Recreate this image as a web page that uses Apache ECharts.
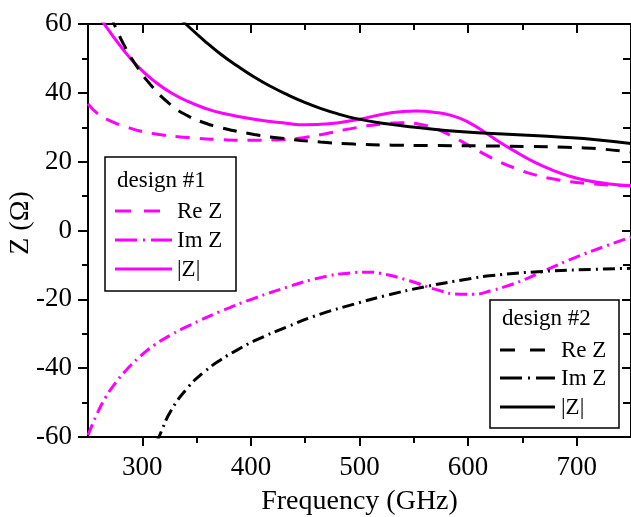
<!DOCTYPE html>
<html>
<head>
<meta charset="utf-8">
<script src="https://cdn.jsdelivr.net/npm/echarts@6/dist/echarts.min.js"></script>
<style>
html, body { margin: 0; padding: 0; background: #fff; }
#chart { width: 631px; height: 517px; }
</style>
</head>
<body>
<div id="chart"></div>
<script>
// tick labels
var xMajor = [300, 400, 500, 600, 700];
var xMinor = [350, 450, 550, 650];

// design #1 (magenta)
var d1Re = [[250,36.8],[259,33.9],[268,32.2],[286,30],[311,28.1],[342,27],[372,26.4],[403,26.2],[428,26.4],[449,27],[470,28.2],[492,29.6],[520,30.9],[540,31.3],[555,30.9],[570,29.6],[585,27.4],[600,24.8],[615,22.2],[630,19.8],[645,17.9],[660,16.3],[680,14.9],[708,13.7],[750,13]];
var d1Im = [[250,-59.5],[258,-53.5],[266,-48.6],[276,-44],[286,-40.3],[298,-36.6],[311,-33.3],[326,-30.4],[342,-27.8],[372,-23.5],[403,-19.7],[434,-16.4],[464,-13.7],[492,-12.3],[506,-12.1],[520,-12.5],[546,-14.6],[570,-17.1],[592,-18.5],[605,-18.5],[622,-17.4],[638,-15.9],[653,-14.1],[668,-12],[699,-7.8],[725,-4.7],[750,-1.9]];
var d1Abs = [[262,61.3],[283,52.3],[296,47.6],[311,43.4],[326,40.1],[342,37.5],[357,35.6],[372,34.2],[403,32.3],[434,31.1],[449,30.7],[472,31],[497,32.2],[525,34],[538,34.5],[552,34.7],[570,34.3],[586,33.3],[600,31.5],[616,28.4],[631,25.3],[647,22.3],[662,19.7],[678,17.5],[693,15.8],[708,14.6],[728,13.6],[750,13]];

// design #2 (black)
var d2Re = [[270,62.8],[274,60],[283,54],[293,48.6],[308,42.2],[326,36.6],[342,33.3],[357,31.3],[372,29.9],[403,27.9],[428,26.8],[464,25.7],[495,25.1],[530,24.8],[564,24.7],[610,24.6],[656,24.4],[690,24.2],[718,23.8],[750,22.8]];
var d2Im = [[313,-61.6],[316,-59.5],[326,-52.6],[342,-45.6],[357,-41.1],[372,-37.6],[388,-34.6],[403,-32.1],[434,-27.9],[464,-24.3],[495,-21.4],[523,-19],[561,-16.3],[600,-14.1],[622,-13.1],[668,-11.9],[714,-11.3],[750,-11]];
var d2Abs = [[332,62.4],[340,60],[357,55.2],[372,51.3],[388,47.7],[403,44.6],[418,41.9],[434,39.4],[449,37.3],[464,35.5],[480,33.9],[497,32.5],[525,31],[549,30.1],[595,28.7],[641,27.9],[687,27.1],[718,26.4],[750,25.3]];

var serif = 'Liberation Serif';
var magenta = '#ff00ff';
var dash = [14, 10];
var dashDot = [12, 5, 2, 5];

var chart = echarts.init(document.getElementById('chart'));

function xAx(pos, ticks, len, inside, labels) {
	return {
		type: 'value', position: pos, min: 250, max: 750,
		axisLine: { show: true, onZero: false, lineStyle: { color: '#000', width: 2 } },
		axisTick: { show: true, inside: inside, length: len, customValues: ticks, lineStyle: { color: '#000', width: 2 } },
		axisLabel: labels ? { show: true, customValues: ticks, margin: 17, color: '#000', fontFamily: serif, fontSize: 27 } : { show: false },
		splitLine: { show: false },
		name: labels ? 'Frequency (GHz)' : '',
		nameLocation: 'middle',
		nameGap: 51,
		nameTextStyle: { color: '#000', fontFamily: serif, fontSize: 28 }
	};
}

function yAx(pos, inside, labels) {
	return {
		type: 'value', position: pos, min: -60, max: 60, interval: 20,
		axisLine: { show: true, onZero: false, lineStyle: { color: '#000', width: 2 } },
		axisTick: { show: true, inside: inside, length: inside ? 9 : 10, lineStyle: { color: '#000', width: 2 } },
		minorTick: { show: true, splitNumber: 2, length: inside ? 8 : 6, lineStyle: { color: '#000', width: 2 } },
		axisLabel: labels ? { show: true, margin: 16, color: '#000', fontFamily: serif, fontSize: 27 } : { show: false },
		splitLine: { show: false },
		minorSplitLine: { show: false }
	};
}

function line(name, data, color, type) {
	return {
		name: name, type: 'line', data: data, smooth: 0.5, symbol: 'none',
		xAxisIndex: 0, yAxisIndex: 0, clip: true,
		lineStyle: { color: color, width: 3, type: type, cap: 'butt' }
	};
}

// legend boxes
function legendBox(x, y, w, h, title, color, rows) {
	var els = [
		{ type: 'rect', shape: { x: x, y: y, width: w, height: h }, style: { fill: '#fff', stroke: '#000', lineWidth: 1.5 } },
		{ type: 'text', style: { text: title, x: x + rows.tx0, y: rows.ty0, font: '23px "Liberation Serif"', fill: '#000', verticalAlign: 'middle' } }
	];
	rows.items.forEach(function (r) {
		els.push({ type: 'line', shape: { x1: rows.lx1, y1: r.y, x2: rows.lx2, y2: r.y }, style: { stroke: color, lineWidth: 3, lineDash: r.dash, lineCap: 'butt' } });
		els.push({ type: 'text', style: { text: r.label, x: rows.tx, y: r.y + 1, font: '23px "Liberation Serif"', fill: '#000', verticalAlign: 'middle' } });
	});
	return { type: 'group', z: 100, children: els };
}

var option = {
	animation: false,
	backgroundColor: '#fff',
	textStyle: { fontFamily: serif },
	grid: { left: 88, right: 0, top: 24, bottom: 80, containLabel: false, outerBoundsMode: 'none' },
	xAxis: [
		xAx('bottom', xMajor, 9, false, true),
		xAx('bottom', xMinor, 6, false, false),
		xAx('top', xMajor, 9, true, false),
		xAx('top', xMinor, 6, true, false)
	],
	yAxis: [
		yAx('left', false, true),
		yAx('right', true, false)
	],
	series: [
		line('d1 Re Z', d1Re, magenta, dash),
		line('d1 Im Z', d1Im, magenta, dashDot),
		line('d1 |Z|', d1Abs, magenta, 'solid'),
		line('d2 Re Z', d2Re, '#000', dash),
		line('d2 Im Z', d2Im, '#000', dashDot),
		line('d2 |Z|', d2Abs, '#000', 'solid')
	],
	graphic: [
		{ type: 'text', x: 21, y: 223, rotation: Math.PI / 2, style: { text: 'Z (Ω)', x: 0, y: 0, font: '28px "Liberation Serif"', fill: '#000', align: 'center', verticalAlign: 'middle' } },
		legendBox(105, 157, 131, 134, 'design #1', magenta, {
			tx0: 12, ty0: 181, lx1: 115, lx2: 172, tx: 177,
			items: [
				{ y: 211, label: 'Re Z', dash: [16, 13] },
				{ y: 240, label: 'Im Z', dash: [22, 6, 2, 6] },
				{ y: 269, label: '|Z|', dash: null }
			]
		}),
		legendBox(490, 300, 129, 128, 'design #2', '#000', {
			tx0: 12, ty0: 319, lx1: 500, lx2: 555, tx: 561,
			items: [
				{ y: 350, label: 'Re Z', dash: [15, 15] },
				{ y: 378, label: 'Im Z', dash: [22, 6, 2, 6] },
				{ y: 407, label: '|Z|', dash: null }
			]
		})
	]
};

chart.setOption(option);
</script>
</body>
</html>
